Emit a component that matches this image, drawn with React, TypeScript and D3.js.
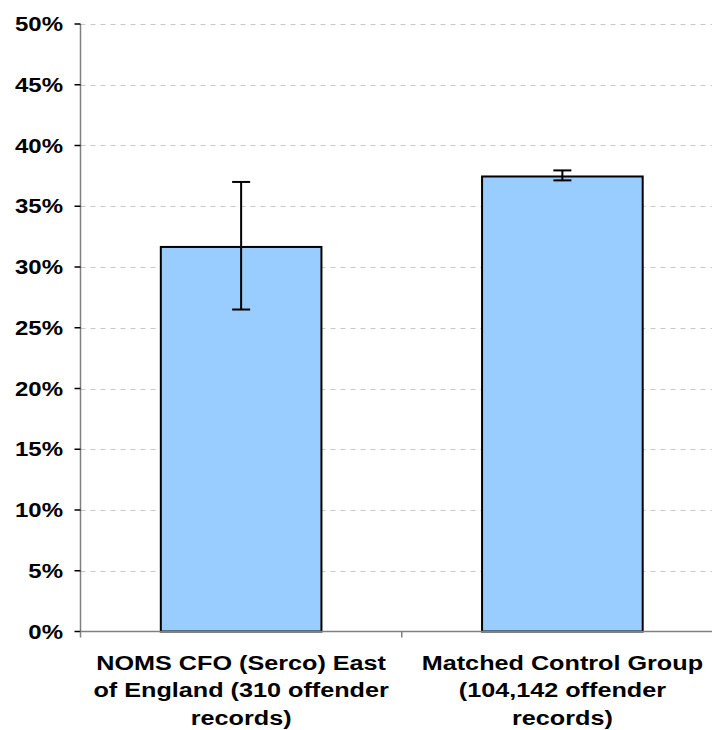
import React from "react";
import * as d3 from "d3";

const categories = ["NOMS CFO (Serco) East of England (310 offender records)", "Matched Control Group (104,142 offender records)"];
const categoryLines = [
  ["NOMS CFO (Serco) East", "of England (310 offender", "records)"],
  ["Matched Control Group", "(104,142 offender", "records)"],
];
const values = [0.3165, 0.3745];
const errLow = [0.265, 0.3713];
const errHigh = [0.37, 0.3795];
const yTicks = [0, 0.05, 0.1, 0.15, 0.2, 0.25, 0.3, 0.35, 0.4, 0.45, 0.5];

const W = 712;
const H = 730;
const left = 80.5;
const top = 24;
const bottom = 631.5;
const right = 723;
const sx = 1.2;
const lineY = [670.5, 697.5, 725];

export default function App() {
  const y = d3.scaleLinear().domain([0, 0.5]).range([bottom, top]);
  const x = d3.scaleBand<string>().domain(categories).range([left, right]).paddingInner(0.5).paddingOuter(0.25);
  const step = x.step();
  const font = "'Liberation Sans', Arial, sans-serif";
  return (
    <div style={{ position: "absolute", left: 0, top: 0 }}>
      <svg width={W} height={H} style={{ display: "block", background: "#fff" }}>
        {yTicks.slice(1).map((t) => (
          <line key={"g" + t} x1={left} x2={W} y1={Math.round(y(t)) + 0.5} y2={Math.round(y(t)) + 0.5} stroke="#c8c8c8" strokeWidth={1} strokeDasharray="5,5" />
        ))}
        {categories.map((c, i) => {
          const bx = x(c)!;
          const bw = x.bandwidth();
          const cx = bx + bw / 2;
          return (
            <g key={c}>
              <rect x={bx} y={y(values[i])} width={bw} height={y(0) - y(values[i])} fill="#99CCFF" stroke="#000" strokeWidth={2} />
              <line x1={cx} x2={cx} y1={y(errHigh[i])} y2={y(errLow[i])} stroke="#000" strokeWidth={2} />
              <line x1={cx - 9} x2={cx + 9} y1={y(errHigh[i])} y2={y(errHigh[i])} stroke="#000" strokeWidth={2} />
              <line x1={cx - 9} x2={cx + 9} y1={y(errLow[i])} y2={y(errLow[i])} stroke="#000" strokeWidth={2} />
            </g>
          );
        })}
        <line x1={left} x2={left} y1={top} y2={bottom} stroke="#808080" strokeWidth={1.5} />
        <line x1={left} x2={W} y1={bottom} y2={bottom} stroke="#808080" strokeWidth={1.5} />
        {yTicks.map((t) => (
          <g key={"t" + t}>
            <line x1={left - 6} x2={left} y1={y(t)} y2={y(t)} stroke="#000" strokeWidth={1.5} />
            <g transform={`translate(63,${y(t)}) scale(${sx},1)`}>
              <text x={0} y={0} dy="0.36em" textAnchor="end" fontFamily={font} fontWeight="bold" fontSize={20} fill="#000">
                {d3.format(".0%")(t)}
              </text>
            </g>
          </g>
        ))}
        {[0, 1, 2].map((k) => (
          <line key={"ct" + k} x1={left + k * step} x2={left + k * step} y1={bottom} y2={bottom + 6} stroke="#808080" strokeWidth={1.5} />
        ))}
        {categories.map((c, i) => {
          const cx = x(c)! + x.bandwidth() / 2;
          return (
            <g key={"l" + c} transform={`translate(${cx},0) scale(${sx},1)`}>
              <text textAnchor="middle" fontFamily={font} fontWeight="bold" fontSize={21} fill="#000">
                {categoryLines[i].map((ln, j) => (
                  <tspan key={j} x={0} y={lineY[j]}>{ln}</tspan>
                ))}
              </text>
            </g>
          );
        })}
      </svg>
    </div>
  );
}
